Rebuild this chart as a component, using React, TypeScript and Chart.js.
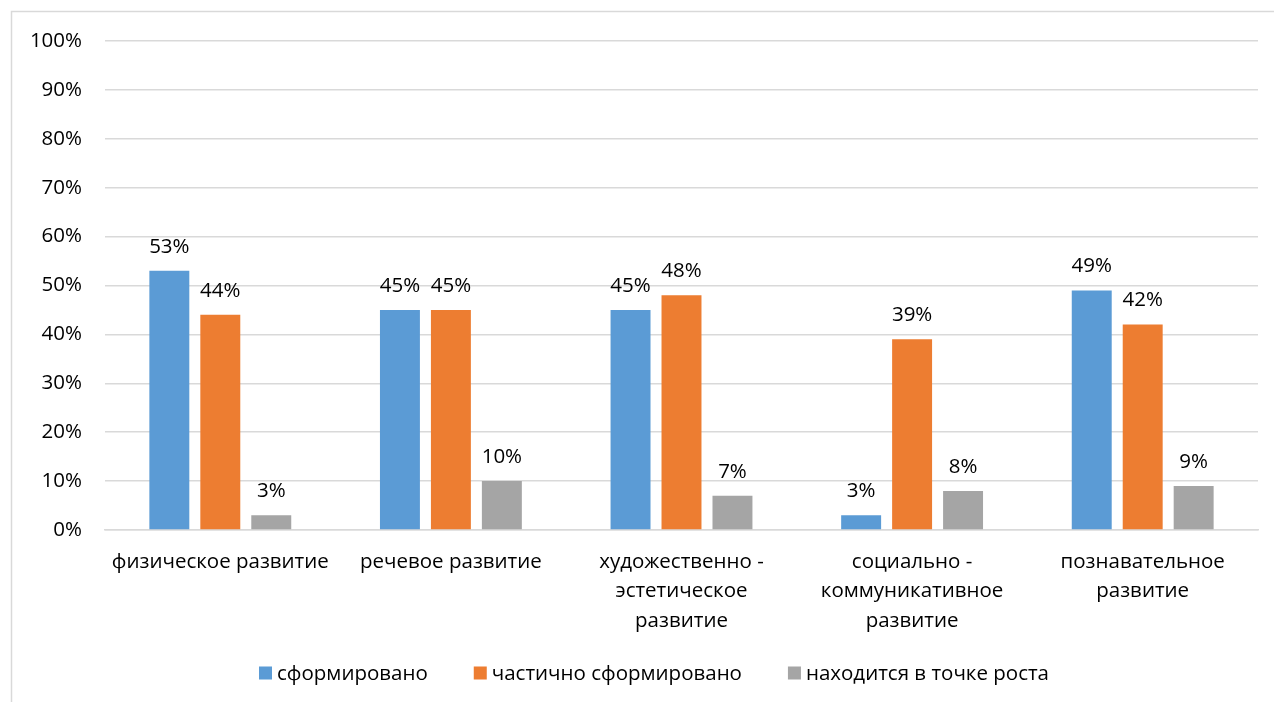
import React, { useEffect, useRef } from "react";
import { Chart, registerables } from "chart.js";

Chart.register(...registerables);

const categories: (string | string[])[] = [
  "физическое развитие",
  "речевое развитие",
  ["художественно -", "эстетическое", "развитие"],
  ["социально -", "коммуникативное", "развитие"],
  ["познавательное", "развитие"],
];
const seriesNames = ["сформировано", "частично сформировано", "находится в точке роста"];
const formed = [53, 45, 45, 3, 49];
const partial = [44, 45, 48, 39, 42];
const growth = [3, 10, 7, 8, 9];
const yTicks = [0, 10, 20, 30, 40, 50, 60, 70, 80, 90, 100];

const colors = ["#5B9BD5", "#ED7D31", "#A5A5A5"];
const FONT = "'Open Sans', 'Noto Sans', sans-serif";
const FS = 20.5;
const GRID = "#D9D9D9";

const framePlugin = {
  id: "frame",
  beforeDraw(chart: any) {
    const ctx = chart.ctx;
    ctx.save();
    ctx.fillStyle = "#fff";
    ctx.fillRect(0, 0, chart.width, chart.height);
    ctx.strokeStyle = GRID;
    ctx.lineWidth = 1.5;
    ctx.beginPath();
    ctx.moveTo(11.5, chart.height);
    ctx.lineTo(11.5, 11.5);
    ctx.lineTo(chart.width, 11.5);
    ctx.stroke();
    ctx.restore();
  },
};

const labelPlugin = {
  id: "valueLabels",
  afterDatasetsDraw(chart: any) {
    const ctx = chart.ctx;
    ctx.save();
    ctx.font = `${FS}px ${FONT}`;
    ctx.fillStyle = "#000";
    ctx.textAlign = "center";
    ctx.textBaseline = "middle";
    chart.data.datasets.forEach((ds: any, i: number) => {
      const meta = chart.getDatasetMeta(i);
      meta.data.forEach((bar: any, j: number) => {
        ctx.fillText(`${ds.data[j]}%`, bar.x, bar.y - 24);
      });
    });
    ctx.restore();
  },
};

const legendPlugin = {
  id: "customLegend",
  afterDraw(chart: any) {
    const ctx = chart.ctx;
    ctx.save();
    ctx.font = `${FS}px ${FONT}`;
    ctx.textBaseline = "middle";
    ctx.textAlign = "left";
    const box = 13;
    const gap = 5;
    const spacing = 46;
    const items = chart.data.datasets.map((ds: any) => ({
      label: ds.label,
      color: ds.backgroundColor,
      w: box + gap + ctx.measureText(ds.label).width,
    }));
    const total = items.reduce((s: number, it: any) => s + it.w, 0) + spacing * (items.length - 1);
    let x = 654 - total / 2;
    const y = 673;
    items.forEach((it: any) => {
      ctx.fillStyle = it.color;
      ctx.fillRect(x, y - box / 2, box, box);
      ctx.fillStyle = "#000";
      ctx.fillText(it.label, x + box + gap, y + 1);
      x += it.w + spacing;
    });
    ctx.restore();
  },
};

export default function App() {
  const ref = useRef<HTMLCanvasElement | null>(null);
  useEffect(() => {
    if (!ref.current) return;
    const chart = new Chart(ref.current, {
      type: "bar",
      data: {
        labels: categories,
        datasets: [
          { label: seriesNames[0], data: formed, backgroundColor: colors[0] },
          { label: seriesNames[1], data: partial, backgroundColor: colors[1] },
          { label: seriesNames[2], data: growth, backgroundColor: colors[2] },
        ],
      },
      options: {
        responsive: false,
        animation: false,
        devicePixelRatio: 1,
        layout: { padding: { top: 41, right: 16, left: 0, bottom: 0 } },
        datasets: { bar: { categoryPercentage: 0.663, barPercentage: 0.784 } },
        plugins: { legend: { display: false }, tooltip: { enabled: false } },
        scales: {
          x: {
            grid: { display: false, drawTicks: false },
            border: { display: true, color: GRID, width: 1.5 },
            ticks: {
              color: "#000",
              font: { family: FONT, size: FS, lineHeight: 1.44 },
              padding: 17,
              maxRotation: 0,
              autoSkip: false,
            },
            afterFit: (s: any) => {
              s.height = 172;
            },
          },
          y: {
            min: 0,
            max: 100,
            afterBuildTicks: (s: any) => {
              s.ticks = yTicks.map((v) => ({ value: v }));
            },
            grid: { color: GRID, lineWidth: 1.5, drawTicks: false },
            border: { display: false },
            ticks: {
              color: "#000",
              font: { family: FONT, size: FS },
              padding: 23,
              callback: (v: any) => `${v}%`,
            },
            afterFit: (s: any) => {
              s.width = 105;
            },
          },
        },
      },
      plugins: [framePlugin, labelPlugin, legendPlugin],
    });
    return () => chart.destroy();
  }, []);
  return (
    <div style={{ position: "absolute", left: 0, top: 0, width: 1274, height: 702 }}>
      <canvas ref={ref} width={1274} height={702} style={{ display: "block" }} />
    </div>
  );
}
